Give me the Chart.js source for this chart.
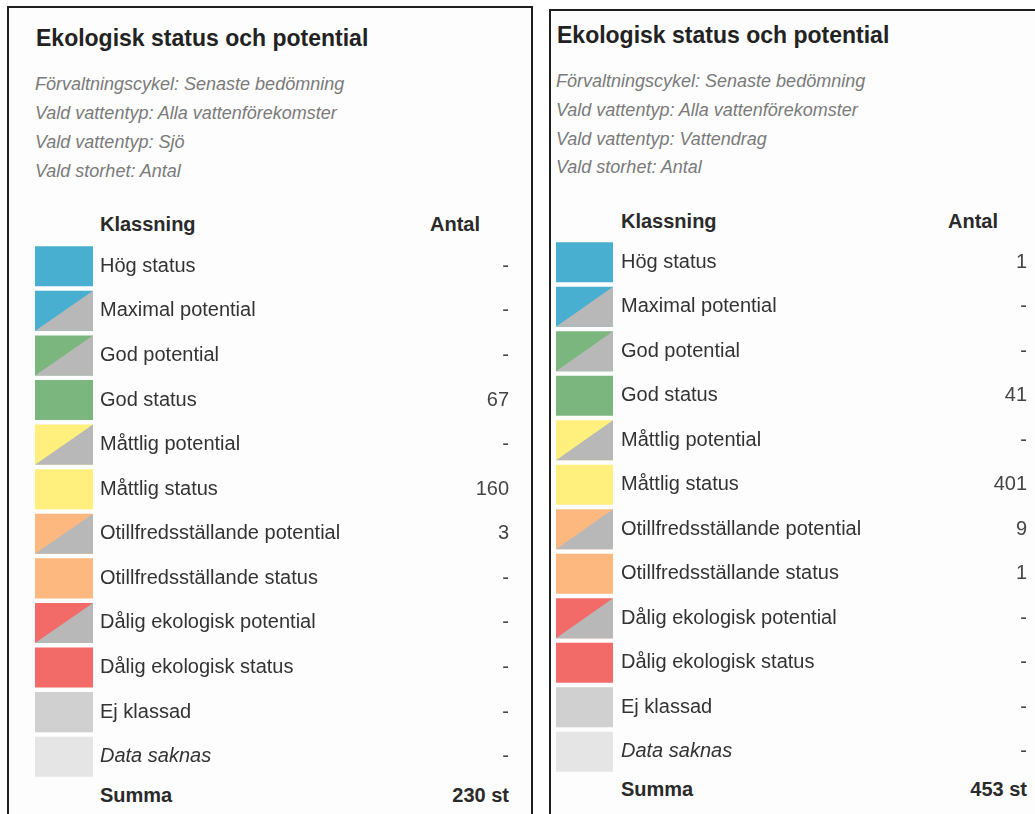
<!DOCTYPE html>
<html>
<head>
<meta charset="utf-8">
<script src="https://cdn.jsdelivr.net/npm/chart.js@4.4.1/dist/chart.umd.min.js"></script>
<style>
  html, body { margin:0; padding:0; background:#ffffff; width:1035px; height:814px; overflow:hidden;
    font-family:"Liberation Sans", Arial, sans-serif; }
  .panel { position:absolute; border:2px solid #1e1e1e; background:#fdfdfd; box-sizing:border-box; }
  .t { position:absolute; white-space:nowrap; }
  .title { font-size:23px; font-weight:bold; color:#222; }
  .sub { font-size:18px; font-style:italic; color:#7a7a7a; }
  .hdr { font-size:20px; font-weight:bold; color:#2a2a2a; }
  .wrap { position:absolute; }
</style>
</head>
<body>
<script>
// ---- data ----
const classes = ['Hög status', 'Maximal potential', 'God potential', 'God status', 'Måttlig potential',
  'Måttlig status', 'Otillfredsställande potential', 'Otillfredsställande status',
  'Dålig ekologisk potential', 'Dålig ekologisk status', 'Ej klassad', 'Data saknas'];
const classColors = ['#48afd1', '#48afd1', '#7ab67e', '#7ab67e', '#fff07e', '#fff07e',
  '#fdb880', '#fdb880', '#f26b68', '#f26b68', '#d0d0d0', '#e5e5e5'];
const isPotential = [false, true, true, false, true, false, true, false, true, false, false, false];
const swatchLength = [1, 1, 1, 1, 1, 1, 1, 1, 1, 1, 1, 1];
const antalSjo = [null, null, null, 67, null, 160, 3, null, null, null, null, null];
const antalVattendrag = [1, null, null, 41, null, 401, 9, 1, null, null, null, null];
const panelTitle = 'Ekologisk status och potential';
const subtitlesSjo = ['Förvaltningscykel: Senaste bedömning', 'Vald vattentyp: Alla vattenförekomster',
  'Vald vattentyp: Sjö', 'Vald storhet: Antal'];
const subtitlesVattendrag = ['Förvaltningscykel: Senaste bedömning', 'Vald vattentyp: Alla vattenförekomster',
  'Vald vattentyp: Vattendrag', 'Vald storhet: Antal'];
const headerLabels = ['Klassning', 'Antal'];
const sumLabel = 'Summa';
const sumUnit = 'st';

// ---- helpers ----
function addText(cls, text, x, cy, size, alignRight) {
  const d = document.createElement('div');
  d.className = 't ' + cls;
  d.textContent = text;
  const lh = Math.round(size * 1.15);
  d.style.lineHeight = lh + 'px';
  d.style.top = (cy - lh / 2) + 'px';
  if (alignRight) { d.style.right = (1035 - x) + 'px'; d.style.textAlign = 'right'; }
  else d.style.left = x + 'px';
  document.body.appendChild(d);
  return d;
}

const diagPlugin = {
  id: 'diag',
  afterDatasetsDraw(chart) {
    const meta = chart.getDatasetMeta(0);
    const ctx = chart.ctx;
    meta.data.forEach((bar, i) => {
      if (!isPotential[i]) return;
      const p = bar.getProps(['x', 'y', 'base', 'height'], true);
      const top = p.y - p.height / 2, bot = p.y + p.height / 2;
      ctx.save();
      ctx.fillStyle = '#b8b8b8';
      ctx.beginPath();
      ctx.moveTo(p.base, bot);
      ctx.lineTo(p.x, bot);
      ctx.lineTo(p.x, top);
      ctx.closePath();
      ctx.fill();
      ctx.restore();
    });
  }
};

function makePanel(cfg) {
  const panel = document.createElement('div');
  panel.className = 'panel';
  panel.style.left = cfg.box[0] + 'px';
  panel.style.top = cfg.box[1] + 'px';
  panel.style.width = cfg.box[2] + 'px';
  panel.style.height = cfg.box[3] + 'px';
  document.body.appendChild(panel);

  addText('title', panelTitle, cfg.titleX, cfg.titleY, 23);
  cfg.subs.forEach((s, i) => addText('sub', s, cfg.subX, cfg.subY[i], 18));
  addText('hdr', headerLabels[0], cfg.labelX, cfg.hdrY, 20);
  addText('hdr', headerLabels[1], cfg.antalRight, cfg.hdrY, 20, true);
  const sum = cfg.values.reduce((a, v) => a + (v || 0), 0);
  addText('hdr', sumLabel, cfg.labelX, cfg.sumY, 20);
  addText('hdr', sum + ' ' + sumUnit, cfg.valueRight, cfg.sumY, 20, true);

  const wrap = document.createElement('div');
  wrap.className = 'wrap';
  const w = cfg.valueRight - cfg.swatchLeft;
  wrap.style.left = cfg.swatchLeft + 'px';
  wrap.style.top = cfg.rowsTop + 'px';
  wrap.style.width = w + 'px';
  wrap.style.height = cfg.rowsHeight + 'px';
  const canvas = document.createElement('canvas');
  wrap.appendChild(canvas);
  document.body.appendChild(wrap);

  const valueAxisW = 100;
  const labelAxisW = w - cfg.swatchWidth - valueAxisW;
  const fam = '"Liberation Sans", Arial, sans-serif';

  const chart = new Chart(canvas, {
    type: 'bar',
    data: {
      labels: classes,
      datasets: [{
        data: swatchLength,
        backgroundColor: classColors,
        borderWidth: 0,
        categoryPercentage: 1,
        barPercentage: 0.9,
        xAxisID: 'x',
        yAxisID: 'y'
      }]
    },
    options: {
      indexAxis: 'y',
      responsive: true,
      maintainAspectRatio: false,
      animation: false,
      devicePixelRatio: 1,
      layout: { padding: 0 },
      plugins: { legend: { display: false }, tooltip: { enabled: false } },
      scales: {
        x: { type: 'linear', min: 0, max: 1, display: false },
        y: {
          type: 'category', position: 'right', weight: 0, offset: true,
          grid: { display: false, drawTicks: false }, border: { display: false },
          afterFit: (s) => { s.width = labelAxisW; },
          ticks: {
            crossAlign: 'near', padding: cfg.labelX - cfg.swatchLeft - cfg.swatchWidth,
            color: '#333',
            font: (c) => ({ family: fam, size: 20, style: c.index === 11 ? 'italic' : 'normal' })
          }
        },
        y2: {
          type: 'category', position: 'right', weight: 1, offset: true,
          grid: { display: false, drawTicks: false }, border: { display: false },
          afterFit: (s) => { s.width = valueAxisW; },
          ticks: {
            crossAlign: 'far', padding: 0, color: '#444',
            font: { family: fam, size: 20 },
            callback: (v, i) => (cfg.values[i] == null ? '-' : String(cfg.values[i]))
          }
        }
      }
    },
    plugins: [diagPlugin]
  });

  // make the chart area (not the canvas) span exactly the rows band
  const ca = chart.chartArea;
  const padTop = ca.top;
  const padBottom = chart.height - ca.bottom;
  wrap.style.top = (cfg.rowsTop - padTop) + 'px';
  wrap.style.height = (cfg.rowsHeight + padTop + padBottom) + 'px';
  chart.resize();
}

makePanel({
  box: [7, 6, 526, 900],
  titleX: 36, titleY: 38,
  subX: 35, subY: [84, 113, 142, 171], subs: subtitlesSjo,
  hdrY: 224, labelX: 100, antalRight: 480,
  sumY: 795, valueRight: 509,
  swatchLeft: 35, swatchWidth: 58,
  rowsTop: 244, rowsHeight: 535,
  values: antalSjo
});

makePanel({
  box: [549, 9, 600, 900],
  titleX: 557, titleY: 35,
  subX: 556, subY: [81, 110, 139, 167], subs: subtitlesVattendrag,
  hdrY: 221, labelX: 621, antalRight: 998,
  sumY: 789, valueRight: 1027,
  swatchLeft: 556, swatchWidth: 57,
  rowsTop: 240, rowsHeight: 534,
  values: antalVattendrag
});
</script>
</body>
</html>
